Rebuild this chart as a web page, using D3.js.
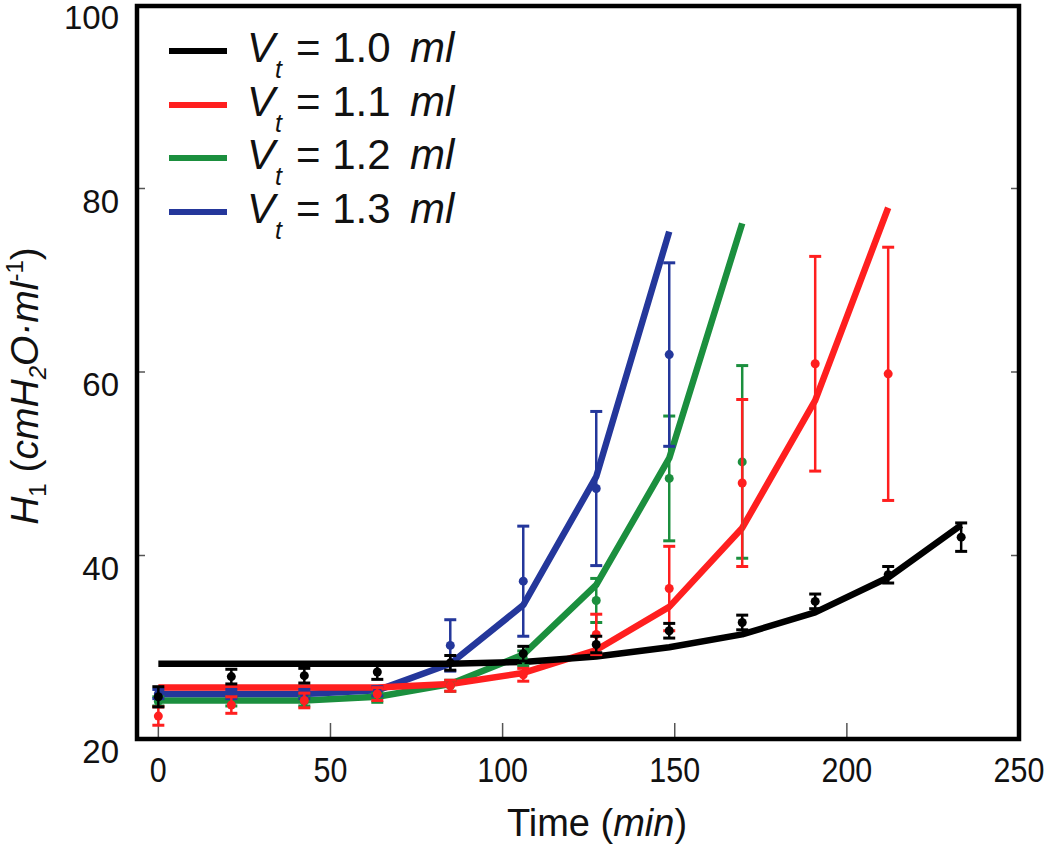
<!DOCTYPE html>
<html>
<head>
<meta charset="utf-8">
<script src="https://cdn.jsdelivr.net/npm/d3@7"></script>
<style>
  html, body { margin: 0; padding: 0; background: #fff; }
  svg { display: block; font-family: "Liberation Sans", Arial, Helvetica, sans-serif; }
</style>
</head>
<body>
<svg id="chart" width="1050" height="851"></svg>
<script>
// ---------------- data ----------------
const times = [0, 21.2, 42.4, 63.6, 84.8, 106, 127.2, 148.4, 169.6, 190.8, 212, 233.2];

const seriesNames = ["1.0", "1.1", "1.2", "1.3"];
const seriesColors = ["#000000", "#ff1f1f", "#1b8f3e", "#24379b"];

// fitted curves (model lines)
const fit10 = [28.2, 28.2, 28.2, 28.2, 28.2, 28.4, 29.0, 30.0, 31.4, 33.8, 37.6, 43.3];
const fit11 = [25.6, 25.6, 25.6, 25.6, 26.0, 27.2, 29.7, 34.4, 43.0, 56.9, 77.9];
const fit12 = [24.2, 24.2, 24.2, 24.6, 26.0, 29.2, 36.8, 50.6, 76.2];
const fit13 = [24.9, 24.9, 24.9, 25.3, 28.2, 34.6, 48.6, 75.3];

// measured means and error (±)
const mean10 = [24.6, 26.8, 26.9, 27.3, 28.3, 29.3, 30.3, 31.8, 32.7, 35.0, 37.9, 42.0];
const err10  = [1.1, 0.8, 0.8, 0.8, 0.8, 0.8, 0.9, 0.8, 0.8, 0.8, 0.9, 1.55];
const mean11 = [22.5, 23.7, 24.2, 24.9, 25.8, 27.0, 31.4, 36.4, 47.9, 60.9, 59.8];
const err11  = [1.0, 0.9, 0.8, 0.7, 0.6, 0.7, 2.2, 4.6, 9.1, 11.7, 13.8];
const mean12 = [24.1, 24.1, 24.1, 24.5, 25.8, 28.8, 35.1, 48.4, 50.2];
const err12  = [0.5, 0.5, 0.5, 0.5, 0.6, 0.8, 2.4, 6.8, 10.5];
const mean13 = [24.9, 24.9, 24.9, 25.2, 30.2, 37.2, 47.3, 61.9];
const err13  = [0.5, 0.5, 0.5, 0.5, 2.8, 6.0, 8.4, 10.0];

const xTicks = [0, 50, 100, 150, 200, 250];
const yTicks = [20, 40, 60, 80, 100];

// ---------------- build ----------------
const fits = [fit10, fit11, fit12, fit13];
const means = [mean10, mean11, mean12, mean13];
const errs = [err10, err11, err12, err13];

const series = seriesNames.map((n, i) => ({
  name: n,
  color: seriesColors[i],
  fit: fits[i].map((v, k) => ({ t: times[k], v })),
  pts: means[i].map((v, k) => ({ t: times[k], v, e: errs[i][k] }))
}));

const svg = d3.select("#chart");
const L = 137, R = 1019, T = 6, B = 739;

const x = d3.scaleLinear().domain([-6.2, 250]).range([L, R]);
const y = d3.scaleLinear().domain([20, 100]).range([B, T - 1]);

// ticks (inward, thin gray)
svg.append("g").selectAll("line").data(xTicks.filter(t => t < 250)).join("line")
  .attr("x1", d => x(d)).attr("x2", d => x(d))
  .attr("y1", B).attr("y2", B - 16)
  .attr("stroke", "#555").attr("stroke-width", 1.5);
const innerY = yTicks.filter(v => v > 20 && v < 100);
svg.append("g").selectAll("line").data(innerY).join("line")
  .attr("x1", L).attr("x2", L + 8)
  .attr("y1", d => y(d)).attr("y2", d => y(d))
  .attr("stroke", "#555").attr("stroke-width", 1.5);
svg.append("g").selectAll("line").data(innerY).join("line")
  .attr("x1", R).attr("x2", R - 8)
  .attr("y1", d => y(d)).attr("y2", d => y(d))
  .attr("stroke", "#555").attr("stroke-width", 1.5);

// tick labels
svg.append("g").selectAll("text").data(xTicks).join("text")
  .attr("transform", d => `translate(${x(d)},782) scale(0.87,1)`)
  .attr("text-anchor", "middle")
  .attr("font-size", 35)
  .attr("fill", "#111")
  .text(d => d);

svg.append("g").selectAll("text").data(yTicks).join("text")
  .attr("x", 119)
  .attr("y", d => y(d) + 24)
  .attr("text-anchor", "end")
  .attr("font-size", 33)
  .attr("fill", "#111")
  .text(d => d);

// axis titles
const xt = svg.append("text")
  .attr("x", 597).attr("y", 836)
  .attr("text-anchor", "middle")
  .attr("font-size", 38)
  .attr("fill", "#111");
xt.append("tspan").text("Time (");
xt.append("tspan").attr("font-style", "italic").text("min");
xt.append("tspan").text(")");

const yt = svg.append("text")
  .attr("transform", "translate(38,386) rotate(-90)")
  .attr("text-anchor", "middle")
  .attr("font-size", 39)
  .attr("fill", "#111");
yt.append("tspan").attr("font-style", "italic").text("H");
yt.append("tspan").attr("font-size", 24).attr("dy", 8).text("1");
yt.append("tspan").attr("dy", -8).text(" (");
yt.append("tspan").attr("font-style", "italic").text("cmH");
yt.append("tspan").attr("font-style", "italic").attr("font-size", 24).attr("dy", 8).text("2");
yt.append("tspan").attr("font-style", "italic").attr("dy", -8).text("O·ml");
yt.append("tspan").attr("font-size", 24).attr("dy", -15).text("-1");
yt.append("tspan").attr("dy", 15).text(")");

// fitted lines
const line = d3.line().x(d => x(d.t)).y(d => y(d.v));
const drawOrder = [2, 3, 1, 0];
svg.append("g").selectAll("path").data(drawOrder.map(i => series[i])).join("path")
  .attr("d", d => line(d.fit))
  .attr("fill", "none")
  .attr("stroke", d => d.color)
  .attr("stroke-width", 6.5)
  .attr("stroke-linejoin", "round");

// error bars and points
const eg = svg.append("g");
drawOrder.forEach(i => {
  const s = series[i];
  const g = eg.append("g");
  g.selectAll("line.v").data(s.pts).join("line").attr("class", "v")
    .attr("x1", d => x(d.t)).attr("x2", d => x(d.t))
    .attr("y1", d => y(d.v - d.e)).attr("y2", d => y(d.v + d.e))
    .attr("stroke", s.color).attr("stroke-width", 2.5);
  ["top", "bot"].forEach(k => {
    g.selectAll("line." + k).data(s.pts).join("line").attr("class", k)
      .attr("x1", d => x(d.t) - 6).attr("x2", d => x(d.t) + 6)
      .attr("y1", d => y(k === "top" ? d.v + d.e : d.v - d.e))
      .attr("y2", d => y(k === "top" ? d.v + d.e : d.v - d.e))
      .attr("stroke", s.color).attr("stroke-width", 3);
  });
  g.selectAll("circle").data(s.pts).join("circle")
    .attr("cx", d => x(d.t)).attr("cy", d => y(d.v)).attr("r", 4.5)
    .attr("fill", s.color);
});

// frame
svg.append("rect")
  .attr("x", L).attr("y", T).attr("width", R - L).attr("height", B - T)
  .attr("fill", "none").attr("stroke", "#000").attr("stroke-width", 4.5);

// legend
const legY = [51, 105, 158, 212];
const lg = svg.append("g").selectAll("g").data(series).join("g")
  .attr("transform", (d, i) => `translate(0,${legY[i]})`);
lg.append("line")
  .attr("x1", 169).attr("x2", 227).attr("y1", 0).attr("y2", 0)
  .attr("stroke", d => d.color).attr("stroke-width", 6);
const lt = lg.append("text").attr("x", 247).attr("y", 11)
  .attr("font-size", 42).attr("fill", "#111");
lt.append("tspan").attr("font-style", "italic").text("V");
lt.append("tspan").attr("font-style", "italic").attr("font-size", 25)
  .attr("dx", 0).attr("dy", 16).text("t");
lt.append("tspan").attr("x", 296).attr("dy", -16).text(d => "= " + d.name);
lt.append("tspan").attr("x", 410).attr("font-style", "italic").text("ml");
</script>
</body>
</html>
